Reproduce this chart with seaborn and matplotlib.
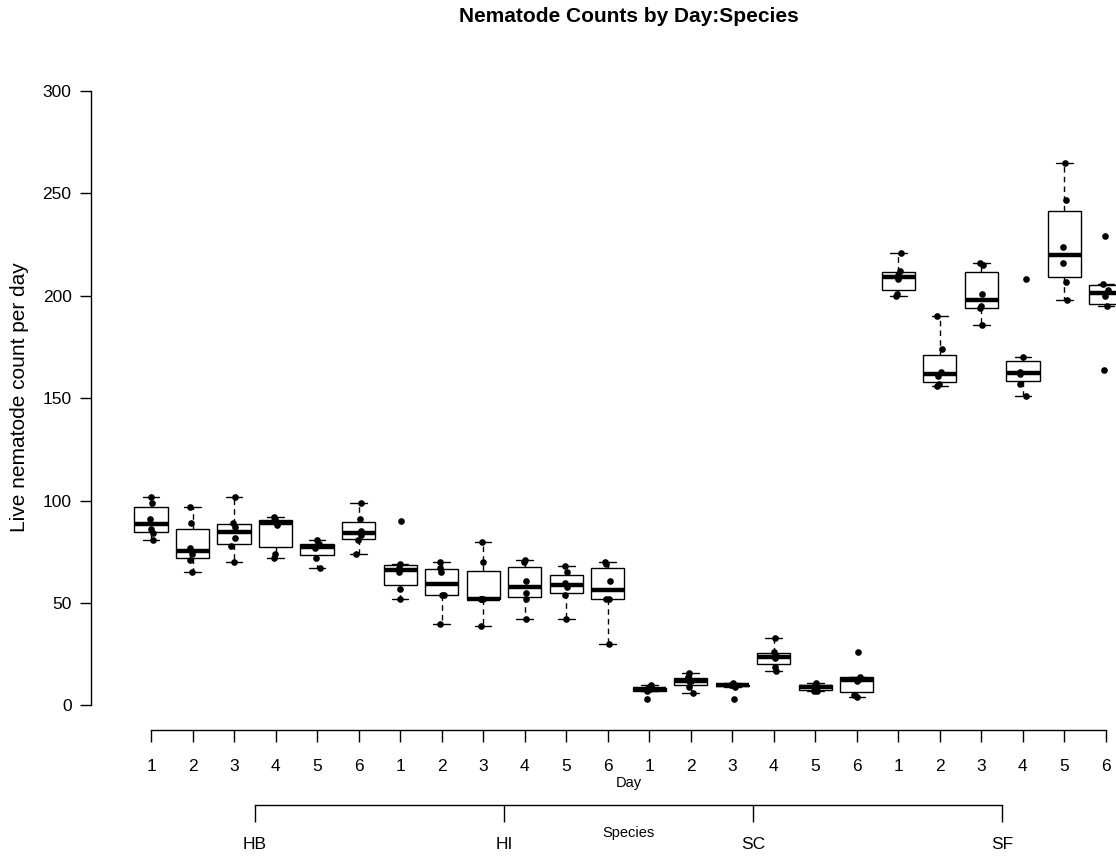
import numpy as np
import pandas as pd
import matplotlib
matplotlib.use("Agg")
import matplotlib.pyplot as plt
import matplotlib.transforms as mtransforms
import seaborn as sns

# ---- data ----
species = ["HB", "HI", "SC", "SF"]
days = [1, 2, 3, 4, 5, 6]

hb_counts = [
    [102, 99, 91, 86, 84, 81],
    [97, 89, 77, 74, 71, 65],
    [102, 89, 87, 82, 78, 70],
    [92, 91, 90, 88, 74, 72],
    [81, 79, 78, 77, 72, 67],
    [99, 91, 85, 83, 81, 74],
]
hi_counts = [
    [90, 69, 67, 65, 57, 52],
    [70, 67, 65, 54, 54, 40],
    [80, 70, 52, 52, 52, 39],
    [71, 70, 61, 55, 52, 42],
    [68, 65, 60, 58, 54, 42],
    [70, 69, 61, 52, 52, 30],
]
sc_counts = [
    [10, 9, 8, 8, 7, 3],
    [16, 14, 12, 12, 9, 6],
    [11, 10, 10, 10, 9, 3],
    [33, 26, 24, 23, 19, 17],
    [11, 10, 9, 9, 7, 7],
    [26, 14, 13, 12, 5, 4],
]
sf_counts = [
    [221, 212, 210, 208, 201, 200],
    [190, 174, 163, 161, 157, 156],
    [216, 215, 201, 195, 194, 186],
    [208, 170, 163, 162, 157, 151],
    [265, 247, 224, 216, 207, 198],
    [229, 206, 203, 200, 195, 164],
]
yticks = [0, 50, 100, 150, 200, 250, 300]

title = "Nematode Counts by Day:Species"
ylabel = "Live nematode count per day"

# ---- tidy table ----
all_counts = {"HB": hb_counts, "HI": hi_counts, "SC": sc_counts, "SF": sf_counts}
rows = []
order = []
for sp in species:
    for d, vals in zip(days, all_counts[sp]):
        key = f"{sp}.{d}"
        order.append(key)
        for v in vals:
            rows.append({"group": key, "count": v})
df = pd.DataFrame(rows)

# ---- style ----
sns.set_style("white")
plt.rcParams["font.family"] = ["Liberation Sans", "DejaVu Sans"]
plt.rcParams["xtick.direction"] = "out"
plt.rcParams["ytick.direction"] = "out"
plt.rcParams["text.color"] = "black"
plt.rcParams["xtick.color"] = "black"
plt.rcParams["ytick.color"] = "black"
plt.rcParams["xtick.bottom"] = True
plt.rcParams["ytick.left"] = True

W, H = 1116, 861
fig = plt.figure(figsize=(W / 100, H / 100), dpi=100)
fig.patch.set_facecolor("white")

step = 41.52
x0_px = 151
ax_left_px, ax_top_px, ax_bot_px = 91, 66.5, 730
xlim_left = -(x0_px - ax_left_px) / step
xlim_right = 24.47
ax_w_px = (xlim_right - xlim_left) * step
ax = fig.add_axes([ax_left_px / W, 1 - ax_bot_px / H, ax_w_px / W, (ax_bot_px - ax_top_px) / H])

sns.boxplot(
    data=df, x="group", y="count", order=order, ax=ax,
    color="white", linecolor="black", linewidth=1.0, width=0.8,
    showfliers=False, whis=1.5, saturation=1,
    medianprops=dict(linewidth=3.2, color="black", solid_capstyle="butt"),
    whiskerprops=dict(linestyle=(0, (4, 3)), linewidth=1.0, color="black"),
    capprops=dict(linewidth=1.0, color="black"),
)
np.random.seed(3)
sns.stripplot(
    data=df, x="group", y="count", order=order, ax=ax,
    color="black", size=4.8, jitter=0.07, linewidth=0, zorder=5,
)

ax.set_xlim(xlim_left, xlim_right)
ax.set_ylim(-12, 312)
ax.set_xlabel("")
ax.set_ylabel("")
for s in ["top", "right"]:
    ax.spines[s].set_visible(False)
ax.spines["left"].set_bounds(0, 300)
ax.spines["bottom"].set_bounds(0, len(order) - 1)
for s in ["left", "bottom"]:
    ax.spines[s].set_linewidth(1.0)
    ax.spines[s].set_color("black")

ax.set_yticks(yticks)
ax.set_yticklabels([str(t) for t in yticks], fontsize=12.5)
ax.tick_params(axis="y", left=True, length=8, width=1.0, pad=6, colors="black")

ax.set_xticks(range(len(order)))
ax.set_xticklabels([str(d) for sp in species for d in days], fontsize=12.5)
ax.tick_params(axis="x", bottom=True, length=8.6, width=1.0, pad=12, colors="black")

# species axis
sec = ax.secondary_xaxis(-(805 - ax_bot_px) / (ax_bot_px - ax_top_px))
sp_pos = [2.5 + 6 * i for i in range(len(species))]
sec.set_xticks(sp_pos)
sec.set_xticklabels(species, fontsize=12.5)
sec.tick_params(axis="x", bottom=True, length=12, width=1.0, pad=11, colors="black")
sec.spines["bottom"].set_bounds(sp_pos[0], sp_pos[-1])
sec.spines["bottom"].set_linewidth(1.0)
sec.spines["bottom"].set_color("black")

trans = mtransforms.blended_transform_factory(ax.transData, fig.transFigure)
xc = (len(order) - 1) / 2
fig.text(xc, 1 - 16 / H, title, transform=trans, ha="center", va="center",
         fontsize=15, fontweight="bold")
fig.text(xc, 1 - 783 / H, "Day", transform=trans, ha="center", va="center", fontsize=10.5)
fig.text(xc, 1 - 833 / H, "Species", transform=trans, ha="center", va="center", fontsize=10.5)
fig.text(20 / W, 1 - 397 / H, ylabel, rotation=90, ha="center", va="center",
         fontsize=15)

fig.savefig("out.png", dpi=100, facecolor="white")
